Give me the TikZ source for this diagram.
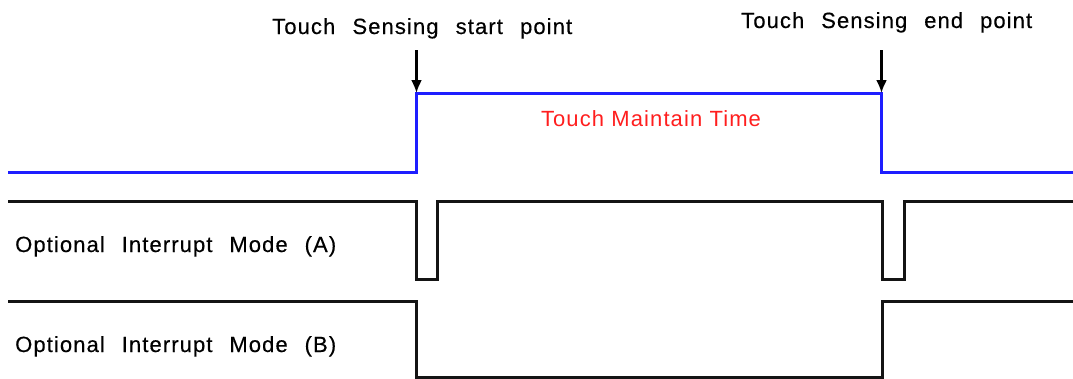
\documentclass[tikz,border=0pt]{standalone}
\usepackage{fontspec}
\setmainfont{Liberation Sans}
\newfontfamily\lblfont[LetterSpace=5,FakeBold=0.4]{Liberation Sans}
\newfontfamily\redfont[LetterSpace=5]{Liberation Sans}
\usetikzlibrary{arrows.meta}
\definecolor{sigblue}{RGB}{30,30,255}
\definecolor{sigblack}{RGB}{20,20,20}
\definecolor{txtred}{RGB}{255,30,30}
\newcommand{\spreadtext}[2]{\hbox to #1{#2}}
\tikzset{
  lbl/.style={anchor=base west, inner sep=0pt, font=\lblfont\fontsize{22}{24}\selectfont},
  redlbl/.style={anchor=base, inner sep=0pt, text=txtred, font=\redfont\fontsize{22}{24}\selectfont},
  bluewave/.style={draw=sigblue, line width=3pt, line join=miter},
  blackwave/.style={draw=sigblack, line width=3pt, line join=miter},
  marker/.style={draw=black, line width=2.2pt, -{Latex[length=13pt,width=11pt]}}
}
\begin{document}
\begin{tikzpicture}[x=1pt,y=-1pt]
\useasboundingbox (0,0) rectangle (1073,378);
% labels
\node[lbl] (startlbl) at (272,34) {\spreadtext{300pt}{Touch\hfil Sensing\hfil start\hfil point}};
\node[lbl] (endlbl) at (741,28) {\spreadtext{291pt}{Touch\hfil Sensing\hfil end\hfil point}};
\node[redlbl] (maintain) at (651,126) {\spreadtext{220pt}{Touch\hfil Maintain\hfil Time}};
\node[lbl] (modeA) at (15,252) {\spreadtext{321pt}{Optional\hfil Interrupt\hfil Mode\hfil (A)}};
\node[lbl] (modeB) at (15,352) {\spreadtext{321pt}{Optional\hfil Interrupt\hfil Mode\hfil (B)}};
% touch waveform
\draw[bluewave] (8,172) -- (416.5,172) -- (416.5,93) -- (881.5,93) -- (881.5,172) -- (1073,172);
% mode A
\draw[blackwave] (8,201) -- (416.5,201) -- (416.5,279) -- (437,279) -- (437,201) -- (882.5,201) -- (882.5,279) -- (904,279) -- (904,201) -- (1073,201);
% mode B
\draw[blackwave] (8,301) -- (416.5,301) -- (416.5,377) -- (882.5,377) -- (882.5,301) -- (1073,301);
% markers
\coordinate (startfrom) at (416.5,50);
\coordinate (startto) at (416.5,93);
\coordinate (endfrom) at (881.5,50);
\coordinate (endto) at (881.5,93);
\draw[marker] (startfrom) -- (startto);
\draw[marker] (endfrom) -- (endto);
\end{tikzpicture}
\end{document}
